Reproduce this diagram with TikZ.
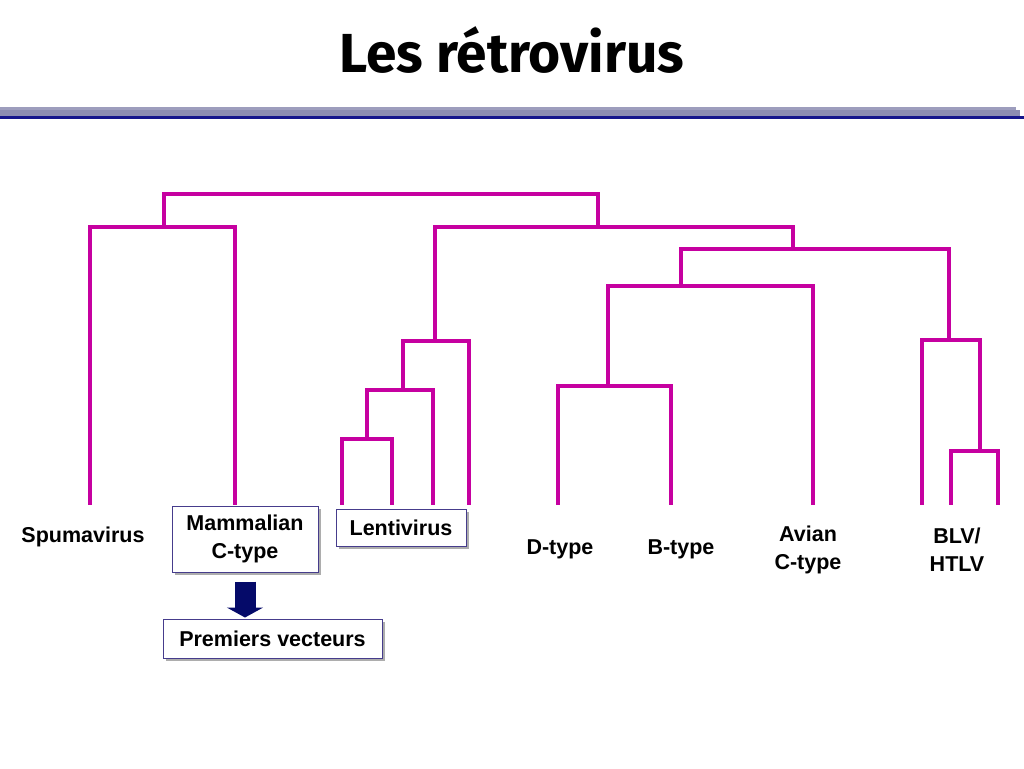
\documentclass[tikz,border=0pt]{standalone}
\usepackage{fontspec}
\setmainfont{Liberation Sans}
\newfontfamily\titlefont{Fira Sans}
\usetikzlibrary{shadows,arrows.meta}
\usepackage{color}
\definecolor{mytreemagenta}{RGB}{198,0,160}
\definecolor{mybarblue}{RGB}{20,20,140}
\definecolor{mybargray}{RGB}{140,140,178}
\definecolor{myboxborder}{RGB}{70,60,140}
\definecolor{myarrownavy}{RGB}{5,10,105}
\newcommand{\widthmamm}{146pt}
\newcommand{\widthlenti}{130pt}
\newcommand{\widthprem}{219pt}
\tikzset{
    branch/.style={draw=mytreemagenta, line width=4pt, line cap=rect},
    leaflabel/.style={font=\bfseries\fontsize{21.5}{28}\selectfont, align=center, inner sep=0pt},
    labelbox/.style={leaflabel, draw=myboxborder, line width=1pt, fill=white,
        drop shadow={shadow xshift=3pt, shadow yshift=-3pt, fill=black!40, opacity=0.8}},
    bigarrow/.style={draw=myarrownavy, line width=21pt, -{Triangle[length=10pt, width=36pt]}}
}

\begin{document}
\begin{tikzpicture}[x=1pt, y=-1pt]
    \useasboundingbox[fill=white] (0,0) rectangle (1024,768);

    % title and bars
    \node (title) at (512,50) {\titlefont\bfseries\fontsize{55}{66}\selectfont Les rétrovirus};
    \fill[mybargray!85] (0,107) rectangle (1016,113);
    \fill[mybargray] (0,110) rectangle (1020,116);
    \fill[mybarblue] (0,116) rectangle (1024,119);

    % leaves
    \foreach \name/\x in {spuma/90, mamm/235, lA/342, lB/392, lC/433, lD/469,
                          dtype/558, btype/671, avian/813, blvA/922, blvB/951, blvC/998}
        \coordinate (\name-top) at (\x,503);

    % junctions
    \coordinate (j-lentiA) at (367,439);
    \coordinate (j-lentiB) at (403,390);
    \coordinate (j-lenti) at (435,341);
    \coordinate (j-db) at (608,386);
    \coordinate (j-dbavian) at (681,286);
    \coordinate (j-blvB) at (980,451);
    \coordinate (j-blv) at (949,340);
    \coordinate (j-onco) at (793,249);
    \coordinate (j-right) at (598,227);
    \coordinate (j-left) at (164,227);
    \coordinate (j-root) at (381,194);

    \draw[branch] (lA-top) |- (j-lentiA) -| (lB-top);
    \draw[branch] (j-lentiA) |- (j-lentiB) -| (lC-top);
    \draw[branch] (j-lentiB) |- (j-lenti) -| (lD-top);
    \draw[branch] (dtype-top) |- (j-db) -| (btype-top);
    \draw[branch] (j-db) |- (j-dbavian) -| (avian-top);
    \draw[branch] (blvB-top) |- (j-blvB) -| (blvC-top);
    \draw[branch] (blvA-top) |- (j-blv) -| (j-blvB);
    \draw[branch] (j-dbavian) |- (j-onco) -| (j-blv);
    \draw[branch] (j-lenti) |- (j-right) -| (j-onco);
    \draw[branch] (spuma-top) |- (j-left) -| (mamm-top);
    \draw[branch] (j-left) |- (j-root) -| (j-right);

    % labels
    \node[leaflabel] (spuma) at (83,537) {Spumavirus};
    \node[labelbox, minimum width=\widthmamm, minimum height=66pt] (mamm) at (245,539) {Mammalian\\C-type};
    \node[labelbox, minimum width=\widthlenti, minimum height=37pt] (lenti) at (401,527.5) {Lentivirus};
    \node[leaflabel] (dtype) at (560,549) {D-type};
    \node[leaflabel] (btype) at (681,549) {B-type};
    \node[leaflabel] (avian) at (808,550) {Avian\\C-type};
    \node[leaflabel] (blv) at (957,550) {BLV/\\HTLV};
    \node[labelbox, minimum width=\widthprem, minimum height=39pt] (prem) at (272.5,638.5) {Premiers vecteurs};

    \draw[bigarrow, shorten <=9pt, shorten >=1pt] (mamm.south) -- (mamm.south |- prem.north);
\end{tikzpicture}
\end{document}
